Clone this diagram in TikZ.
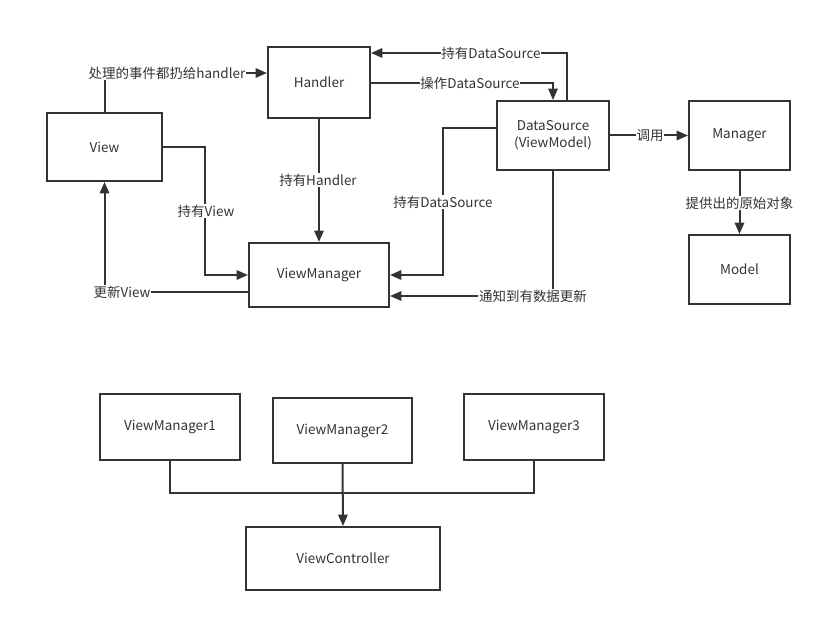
\documentclass[tikz,border=0pt]{standalone}
\usepackage{fontspec}
\setmainfont{Noto Sans CJK SC}
\usetikzlibrary{arrows.meta}
\definecolor{ink}{HTML}{333333}
\tikzset{
  box/.style={draw=ink, line width=1.5pt, fill=white, inner sep=0pt, text=ink, font=\fontsize{10.1}{12.5}\selectfont, align=center},
  conn/.style={draw=ink, line width=1.5pt},
  arr/.style={conn, -{Triangle[length=8.5pt,width=7pt]}},
  lab/.style={fill=white, inner sep=0.5pt, text=ink, font=\fontsize{10.1}{12.5}\selectfont}
}
\begin{document}
\begin{tikzpicture}[x=0.75pt,y=-0.75pt]
\useasboundingbox (0,0) rectangle (822,623);
% nodes
\node[box, minimum width=76.5pt, minimum height=53.25pt] (handler) at (319,82.5) {Handler};
\node[box, minimum width=86.25pt, minimum height=51pt] (view) at (104.5,147) {View};
\node[box, minimum width=84pt, minimum height=51.75pt] (ds) at (553,135.5) {DataSource\\(ViewModel)};
\node[box, minimum width=75.75pt, minimum height=51.75pt] (mgr) at (739.5,135.5) {Manager};
\node[box, minimum width=75.75pt, minimum height=51.75pt] (model) at (739.5,269.5) {Model};
\node[box, minimum width=105pt, minimum height=48pt] (vm) at (319,275) {ViewManager};
\node[box, minimum width=105pt, minimum height=49.5pt] (vm1) at (170,427) {ViewManager1};
\node[box, minimum width=104.25pt, minimum height=48.75pt] (vm2) at (342.5,430.5) {ViewManager2};
\node[box, minimum width=105pt, minimum height=49.5pt] (vm3) at (534,427) {ViewManager3};
\node[box, minimum width=145.5pt, minimum height=47.25pt] (vc) at (343,558.5) {ViewController};
% helper coordinates
\coordinate (y73) at (0,73);
\coordinate (y83) at (0,83);
\coordinate (y53) at (0,53);
\coordinate (y128) at (0,128);
\coordinate (y292) at (0,292);
\coordinate (y296) at (0,296);
\coordinate (y493) at (0,493);
\coordinate (x205) at (205,0);
\coordinate (x443) at (443,0);
\coordinate (x567) at (567,0);
% connectors
\draw[arr] (view.north) |- (handler.west |- y73);
\draw[arr] (handler.east |- y83) -| (ds.north);
\draw[arr] (ds.north -| x567) |- (handler.east |- y53);
\draw[arr] (handler.south) -- (vm.north);
\draw[arr] (view.east) -| (x205 |- vm.west) -- (vm.west);
\draw[arr] (vm.west |- y292) -| (view.south);
\draw[arr] (ds.west |- y128) -| (x443 |- vm.east) -- (vm.east);
\draw[arr] (ds.south) |- (vm.east |- y296);
\draw[arr] (ds.east) -- (mgr.west);
\draw[arr] (mgr.south) -- (model.north);
\draw[conn] (vm1.south) |- (vm3.south |- y493) -- (vm3.south);
\draw[arr] (vm2.south) -- (vc.north);
% labels
\node[lab] (l1) at (167,73) {处理的事件都扔给handler};
\node[lab] (l2) at (470,83) {操作DataSource};
\node[lab] (l3) at (491,53) {持有DataSource};
\node[lab] (l4) at (318,180) {持有Handler};
\node[lab] (l5) at (206,211) {持有View};
\node[lab] (l6) at (122,292) {更新View};
\node[lab] (l7) at (443,202) {持有DataSource};
\node[lab] (l8) at (533,296) {通知到有数据更新};
\node[lab] (l9) at (650,136) {调用};
\node[lab] (l10) at (739.5,203) {提供出的原始对象};
\end{tikzpicture}
\end{document}
